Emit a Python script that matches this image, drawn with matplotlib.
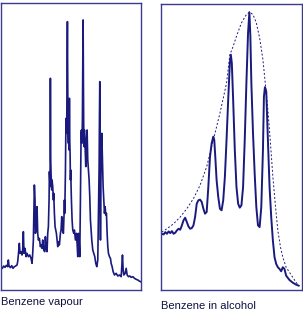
import matplotlib
matplotlib.use("Agg")
import matplotlib.pyplot as plt

plt.rcParams["path.simplify"] = False

# -----------------------------
# Data (arbitrary units)
# -----------------------------
vap_x = [0, 4, 8, 12, 16, 20, 22, 24, 28, 32, 36, 40, 44, 48, 50, 52, 55, 57, 60, 63,
         65, 67, 69, 72, 75, 78, 82, 86, 90, 93, 95, 97, 100, 102, 103, 106, 108, 110, 112, 115,
         118, 120, 123, 125, 128, 131, 133, 135, 138, 140, 142, 144, 145, 147, 148, 149, 150, 152, 153, 155,
         157, 158, 160, 162, 164, 166, 168, 170, 172, 175, 178, 180, 182, 184, 187, 189, 190, 191, 193, 194,
         195, 196, 197, 198, 199, 200, 201, 202, 203, 204, 205, 206, 207, 208, 209, 210, 211, 213, 215, 218,
         220, 223, 226, 228, 230, 232, 234, 236, 238, 240, 241, 242, 243, 244, 245, 246, 247, 248, 249, 250,
         252, 254, 256, 258, 260, 262, 264, 266, 268, 270, 272, 275, 278, 281, 284, 287, 290, 292, 294, 295,
         296, 297, 298, 299, 301, 302, 304, 306, 308, 310, 312, 314, 316, 318, 320, 322, 325, 328, 330, 333,
         336, 340, 345, 350, 355, 360, 362, 364, 366, 368, 372, 375, 378, 382, 386, 390, 395, 400, 405, 410,
         414, 418]
vap_y = [70, 65, 72, 68, 74, 70, 90, 72, 67, 73, 65, 70, 72, 75, 85, 105, 140, 110, 115, 105,
         120, 175, 110, 125, 100, 110, 100, 105, 95, 80, 110, 150, 315, 270, 170, 180, 250, 170, 150, 155,
         130, 135, 125, 150, 120, 115, 160, 125, 115, 170, 190, 270, 355, 310, 635, 390, 350, 300, 330, 310,
         270, 290, 230, 190, 180, 170, 150, 130, 145, 135, 170, 180, 220, 180, 170, 230, 270, 230, 350, 450,
         515, 470, 490, 670, 805, 620, 470, 440, 490, 420, 575, 450, 410, 330, 360, 310, 270, 210, 180, 170,
         180, 150, 170, 140, 100, 170, 150, 100, 270, 470, 480, 440, 450, 520, 670, 810, 620, 470, 430, 480,
         430, 370, 450, 480, 390, 360, 330, 280, 210, 180, 150, 120, 110, 100, 80, 70, 90, 230, 370, 520,
         625, 470, 150, 320, 450, 470, 390, 310, 270, 230, 250, 225, 230, 170, 130, 110, 100, 95, 80, 70,
         55, 45, 50, 42, 45, 40, 70, 105, 60, 45, 50, 65, 45, 40, 42, 38, 40, 35, 32, 30,
         27, 25]

alc_x = [34, 40, 45, 50, 55, 60, 65, 70, 75, 80, 85, 90, 95, 100, 105, 110, 115, 120, 125, 130,
         135, 140, 145, 150, 155, 160, 165, 170, 175, 180, 185, 190, 193, 196, 200, 205, 210, 215, 220, 225,
         230, 235, 240, 243, 246, 250, 255, 260, 265, 270, 275, 280, 285, 290, 295, 299, 302, 305, 310, 315,
         320, 325, 330, 335, 340, 343, 346, 350, 355, 360, 365, 370, 375, 380, 385, 390, 395, 400, 405, 410,
         420, 430, 440, 448]
alc_y = [168, 166, 173, 168, 175, 170, 176, 168, 171, 178, 183, 180, 193, 208, 216, 203, 190, 183, 185, 193,
         218, 258, 268, 270, 263, 243, 228, 233, 308, 398, 438, 458, 448, 398, 328, 278, 243, 238, 268, 338,
         448, 568, 678, 703, 678, 568, 418, 308, 258, 246, 253, 308, 448, 618, 768, 830, 758, 618, 468, 348,
         248, 193, 188, 248, 418, 578, 606, 593, 448, 308, 218, 148, 98, 78, 68, 63, 56, 68, 63, 43,
         30, 22, 16, 13]

env_x = [34, 50, 70, 90, 110, 130, 150, 170, 190, 210, 230, 240, 250, 260, 275, 290, 300, 310, 320, 330,
         340, 348, 355, 362, 370, 378, 385, 393, 400, 410, 420, 430, 440, 448]
env_y = [173, 183, 198, 218, 243, 273, 313, 368, 448, 528, 618, 703, 728, 758, 798, 823, 830, 823, 798, 753,
         688, 608, 538, 448, 338, 248, 178, 128, 98, 68, 53, 38, 23, 13]

labels = ["Benzene vapour", "Benzene in alcohol"]

LINE = "#1a1a7e"
FRAME = "#3a3a8e"

W, H = 303, 311
fig = plt.figure(figsize=(W / 100, H / 100), dpi=100)


def px_axes(x0, y0, x1, y1):
    # axes from pixel box (top-left origin)
    return fig.add_axes([x0 / W, 1 - y1 / H, (x1 - x0) / W, (y1 - y0) / H])


ax1 = px_axes(1, 3.3, 140.5, 290)
ax1.plot(vap_x, vap_y, color=LINE, lw=1.2, solid_joinstyle="round")
ax1.set_xlim(0, 418)
ax1.set_ylim(0, 860)

ax2 = px_axes(161, 3.5, 302, 290)
ax2.plot(alc_x, alc_y, color=LINE, lw=1.4)
ax2.plot(env_x, env_y, color=LINE, lw=0.7, linestyle=(0, (2, 2)))
ax2.set_xlim(32, 458)
ax2.set_ylim(0, 856)

for a in (ax1, ax2):
    a.set_xticks([])
    a.set_yticks([])
    for s in a.spines.values():
        s.set_color(FRAME)
        s.set_linewidth(1.0)

fig.text(1 / W, 1 - 302 / H, labels[0], fontsize=8, family="Liberation Sans",
         color="#101040", va="center", ha="left")
fig.text(161 / W, 1 - 306 / H, labels[1], fontsize=8, family="Liberation Sans",
         color="#101040", va="center", ha="left")

fig.savefig("out.png", dpi=100)
